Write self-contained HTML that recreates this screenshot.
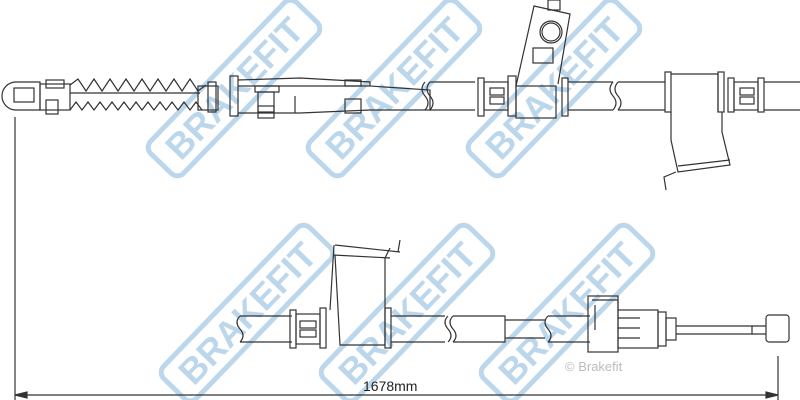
<!DOCTYPE html>
<html><head><meta charset="utf-8"><style>html,body{margin:0;padding:0;background:#fff;}svg{display:block}</style></head>
<body>
<svg width="800" height="400" viewBox="0 0 800 400" xmlns="http://www.w3.org/2000/svg" font-family="Liberation Sans, sans-serif">
<!-- watermarks -->
<g fill="none" stroke="#bcd7eb" stroke-width="5">
<rect x="-105" y="-23" width="210" height="46" rx="9" transform="translate(234,88) rotate(-46)"/>
<rect x="-105" y="-23" width="210" height="46" rx="9" transform="translate(394,88) rotate(-46)"/>
<rect x="-105" y="-23" width="210" height="46" rx="9" transform="translate(554,88) rotate(-46)"/>
<rect x="-105" y="-23" width="210" height="46" rx="9" transform="translate(247,313) rotate(-46)"/>
<rect x="-105" y="-23" width="210" height="46" rx="9" transform="translate(407,313) rotate(-46)"/>
<rect x="-105" y="-23" width="210" height="46" rx="9" transform="translate(567,313) rotate(-46)"/>
</g>
<g fill="#bcd7eb" font-weight="bold" font-size="36">
<text transform="translate(234,88) rotate(-46)" x="-90" y="13" textLength="180" lengthAdjust="spacingAndGlyphs">BRAKEFIT</text>
<text transform="translate(394,88) rotate(-46)" x="-90" y="13" textLength="180" lengthAdjust="spacingAndGlyphs">BRAKEFIT</text>
<text transform="translate(554,88) rotate(-46)" x="-90" y="13" textLength="180" lengthAdjust="spacingAndGlyphs">BRAKEFIT</text>
<text transform="translate(247,313) rotate(-46)" x="-90" y="13" textLength="180" lengthAdjust="spacingAndGlyphs">BRAKEFIT</text>
<text transform="translate(407,313) rotate(-46)" x="-90" y="13" textLength="180" lengthAdjust="spacingAndGlyphs">BRAKEFIT</text>
<text transform="translate(567,313) rotate(-46)" x="-90" y="13" textLength="180" lengthAdjust="spacingAndGlyphs">BRAKEFIT</text>
</g>
<text x="565" y="371" font-size="13" fill="#bbbbbb">© Brakefit</text>

<g fill="none" stroke="#333" stroke-width="1.2">
<!-- top cable -->
<path d="M16,82 H40 V110 H16 A14,14 0 0 1 16,82 Z"/>
<rect x="14" y="88" width="20" height="14"/>
<rect x="40" y="84" width="30" height="26"/>
<rect x="46" y="80" width="18" height="8"/>
<rect x="46" y="100" width="12" height="14"/>
<path d="M70,85 l8,-6 l8,12 l8,-12 l8,12 l8,-12 l8,12 l8,-12 l8,12 l8,-12 l8,12 l8,-12 l8,12 l8,-12 l8,12 l8,-12 l8,12 l8,-6"/>
<line x1="70" y1="93" x2="200" y2="93"/>
<path d="M70,110 l6,-8 l6,8 l6,-8 l6,8 l6,-8 l6,8 l6,-8 l6,8 l6,-8 l6,8 l6,-8 l6,8 l6,-8 l6,8 l6,-8 l6,8 l6,-8 l6,8 l6,-8 l6,8 l6,-8 l6,8"/>
<rect x="198" y="86" width="20" height="24"/>
<rect x="208" y="82" width="8" height="30"/>
<rect x="230" y="76" width="8" height="40"/>
<path d="M238,80 L300,78 L370,82 L370,86 L430,90 L430,110 L370,110 L300,113 L238,113"/>
<line x1="238" y1="86" x2="370" y2="86"/>
<rect x="255" y="86" width="24" height="6"/>
<rect x="258" y="92" width="16" height="26"/>
<rect x="258" y="106" width="16" height="6"/>
<rect x="345" y="80" width="16" height="6"/>
<line x1="295" y1="96" x2="295" y2="113"/>
<rect x="345" y="99" width="16" height="14"/>
<path d="M430,82 H475 M430,110 H475"/>
<path d="M430,82 q-6,7 0,14 q6,7 0,14"/>
<path d="M425,82 q-6,7 0,14 q6,7 0,14"/>
<rect x="478" y="78" width="6" height="38"/><rect x="484" y="82" width="24" height="28"/>
<rect x="490" y="88" width="14" height="7"/><rect x="490" y="97" width="14" height="7"/>
<rect x="508" y="76" width="8" height="40"/>
<rect x="516" y="86" width="40" height="32"/>
<rect x="562" y="78" width="6" height="38"/>
<path d="M568,82 H613 M568,110 H613"/>
<path d="M613,82 q-6,7 0,14 q6,7 0,14"/><path d="M618,82 q-6,7 0,14 q6,7 0,14"/>
<path d="M618,82 H665 M618,110 H665"/>
<rect x="665" y="72" width="6" height="40"/>
<path d="M671,74 H718 V112"/><rect x="718" y="72" width="6" height="40"/>
<path d="M671,112 V140 L678,172 L730,165 L722,132 L722,112"/>
<path d="M678,166 L730,160"/><path d="M676,172 L664,177 L666,190"/>
<rect x="728" y="78" width="6" height="34"/><rect x="734" y="82" width="24" height="28"/>
<rect x="740" y="88" width="14" height="7"/><rect x="740" y="97" width="14" height="7"/>
<rect x="758" y="78" width="6" height="34"/>
<path d="M764,82 H800 M764,110 H800"/>
<!-- LH bracket -->
<path d="M516,86 L534,6 L570,14 L558,84"/>
<rect x="548" y="0" width="12" height="10"/>
<circle cx="551" cy="32" r="9"/><circle cx="551" cy="32" r="11"/>
<rect x="533" y="48" width="20" height="15"/>
<!-- bottom cable -->
<path d="M240,316 H292 M240,342 H292"/>
<path d="M240,316 q-6,6 0,13 q6,7 0,13"/>
<rect x="290" y="310" width="6" height="38"/><rect x="296" y="314" width="24" height="30"/>
<rect x="300" y="321" width="16" height="7"/><rect x="300" y="330" width="16" height="7"/>
<rect x="320" y="308" width="6" height="40"/>
<path d="M334,245 L330,310 M335,255 L340,345 H385 V258 L390,248"/>
<path d="M335,245 L400,252 M333,255 L390,258"/>
<path d="M398,252 L400,240"/>
<rect x="385" y="308" width="6" height="40"/>
<path d="M391,316 H445 M391,342 H445"/>
<path d="M448,316 q-6,6 0,13 q6,7 0,13"/><path d="M453,316 q-6,6 0,13 q6,7 0,13"/>
<path d="M453,316 H505 V342 H453"/>
<path d="M505,320 H545 M505,338 H545"/>
<path d="M548,316 q-6,6 0,13 q6,7 0,13"/>
<path d="M548,316 H590 M548,342 H590"/>
<rect x="588" y="296" width="30" height="56"/>
<path d="M592,300 H618 V310 M595,305 V330"/>
<rect x="618" y="310" width="40" height="38"/>
<path d="M618,318 H640 M618,328 H640 M618,338 H640"/>
<rect x="658" y="312" width="8" height="34"/>
<rect x="666" y="318" width="10" height="22"/>
<path d="M676,326 H752 V334 H676"/>
<rect x="766" y="315" width="23" height="27" rx="3"/>
<path d="M752,326 H766 M752,334 H766"/>
</g>
<!-- dimension -->
<g stroke="#333" stroke-width="1.2" fill="#333">
<line x1="15" y1="117" x2="15" y2="400"/>
<line x1="778" y1="356" x2="778" y2="400"/>
<line x1="15" y1="395" x2="778" y2="395"/>
<path d="M15,395 l12,-3 v6 z"/>
<path d="M778,395 l-12,-3 v6 z"/>
</g>
<text x="363" y="391" font-size="14" fill="#222">1678mm</text>
</svg>
</body></html>
